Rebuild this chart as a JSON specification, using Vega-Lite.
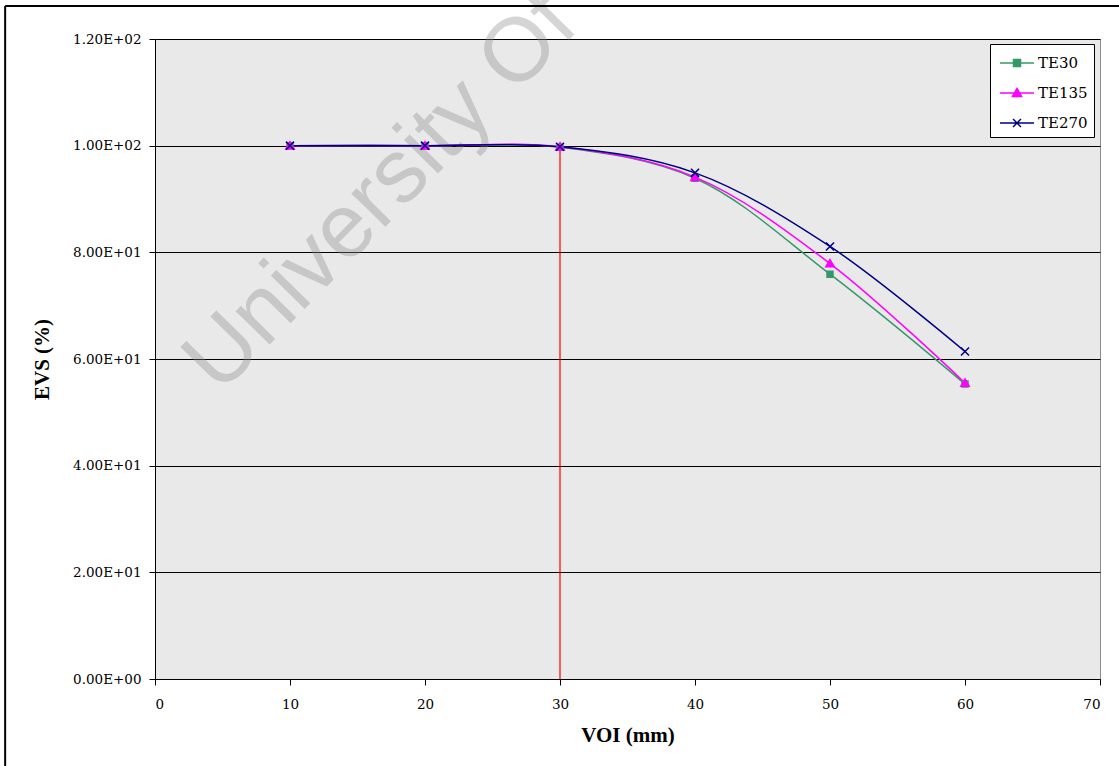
{
  "$schema": "https://vega.github.io/schema/vega-lite/v6.json",
  "width": 945,
  "height": 640,
  "autosize": {"type": "none"},
  "padding": {"left": 155, "top": 39, "right": 19, "bottom": 87},
  "background": "white",
  "config": {
    "view": {"fill": "#e9e9e9", "stroke": "#8c8c8c", "strokeWidth": 1},
    "font": "DejaVu Serif",
    "axis": {
      "labelFont": "DejaVu Serif",
      "labelFontSize": 13.5,
      "labelColor": "black",
      "domainColor": "black",
      "tickColor": "black",
      "titleFont": "Liberation Serif",
      "titleFontSize": 21,
      "titleFontWeight": "bold",
      "titleColor": "black"
    },
    "legend": {
      "labelFont": "DejaVu Serif",
      "labelFontSize": 15,
      "labelColor": "black",
      "padding": 6,
      "symbolOffset": 8,
      "rowPadding": 9,
      "labelOffset": 8,
      "fillColor": "white",
      "strokeColor": "black",
      "symbolSize": 576,
      "symbolStrokeWidth": 1.5
    }
  },
  "datasets": {
    "evs": [
      {"series": "TE30", "voi": 10, "evs": 100.0},
      {"series": "TE30", "voi": 20, "evs": 100.0},
      {"series": "TE30", "voi": 30, "evs": 99.7},
      {"series": "TE30", "voi": 40, "evs": 93.9},
      {"series": "TE30", "voi": 50, "evs": 75.9},
      {"series": "TE30", "voi": 60, "evs": 55.3},
      {"series": "TE135", "voi": 10, "evs": 100.0},
      {"series": "TE135", "voi": 20, "evs": 100.0},
      {"series": "TE135", "voi": 30, "evs": 99.8},
      {"series": "TE135", "voi": 40, "evs": 94.1},
      {"series": "TE135", "voi": 50, "evs": 77.9},
      {"series": "TE135", "voi": 60, "evs": 55.5},
      {"series": "TE270", "voi": 10, "evs": 100.0},
      {"series": "TE270", "voi": 20, "evs": 100.0},
      {"series": "TE270", "voi": 30, "evs": 99.8},
      {"series": "TE270", "voi": 40, "evs": 94.9},
      {"series": "TE270", "voi": 50, "evs": 81.1},
      {"series": "TE270", "voi": 60, "evs": 61.4}
    ],
    "cutoff": [{"voi": 30, "low": 0, "high": 100}]
  },
  "layer": [
    {
      "data": {"values": [{}]},
      "mark": {"type": "text", "text": "University Of", "font": "Liberation Sans", "fontSize": 90, "angle": -45.5, "align": "left", "baseline": "alphabetic", "color": "#8a8a8a", "opacity": 0.35},
      "encoding": {
        "x": {"datum": 4.8, "type": "quantitative", "scale": {"domain": [0, 70], "nice": false}},
        "y": {"datum": 53.2, "type": "quantitative", "scale": {"domain": [0, 120], "nice": false}}
      }
    },
    {
      "data": {"name": "cutoff"},
      "mark": {"type": "rule", "color": "#ff0000", "strokeWidth": 1.2},
      "encoding": {
        "x": {"field": "voi", "type": "quantitative"},
        "y": {"field": "low", "type": "quantitative"},
        "y2": {"field": "high"}
      }
    },
    {
      "data": {"name": "evs"},
      "mark": {"type": "line", "interpolate": "catmull-rom", "strokeWidth": 1.5},
      "encoding": {
        "x": {
          "field": "voi", "type": "quantitative",
          "scale": {"domain": [0, 70], "nice": false},
          "axis": {"title": "VOI (mm)", "values": [0, 10, 20, 30, 40, 50, 60, 70], "grid": false, "tickSize": 6, "labelPadding": 12, "titlePadding": 14}
        },
        "y": {
          "field": "evs", "type": "quantitative",
          "scale": {"domain": [0, 120], "nice": false},
          "axis": {
            "title": "EVS (%)",
            "values": [0, 20, 40, 60, 80, 100, 120],
            "grid": true, "gridColor": "black", "gridOpacity": 1, "gridWidth": 1,
            "tickSize": 6, "labelPadding": 8, "titlePadding": 20,
            "labelExpr": "datum.value == 0 ? '0.00E+00' : datum.value >= 100 ? format(datum.value / 100, '.2f') + 'E+02' : format(datum.value / 10, '.2f') + 'E+01'"
          }
        },
        "color": {
          "field": "series", "type": "nominal",
          "scale": {"domain": ["TE30", "TE135", "TE270"], "range": ["#339966", "#ff00ff", "#000080"]},
          "legend": {"title": null, "orient": "none", "legendX": 835, "legendY": 5, "encode": {"symbols": {"update": {"shape": {"signal": "datum.value === 'TE30' ? 'M-1.42,0H1.42M-0.29,-0.29H0.29V0.29H-0.29Z' : datum.value === 'TE135' ? 'M-1.42,0H1.42M0,-0.38L0.38,0.3H-0.38Z' : 'M-1.42,0H1.42M-0.33,-0.33L0.33,0.33M-0.33,0.33L0.33,-0.33'"}}}}}
        },
        "order": {"field": "voi"}
      }
    },
    {
      "data": {"name": "evs"},
      "transform": [{"filter": "datum.series === 'TE30'"}],
      "mark": {"type": "point", "shape": "M-0.85,-0.85H0.85V0.85H-0.85Z", "filled": true, "opacity": 1, "size": 49, "strokeWidth": 1.5},
      "encoding": {
        "x": {"field": "voi", "type": "quantitative"},
        "y": {"field": "evs", "type": "quantitative"},
        "color": {
          "field": "series", "type": "nominal",
          "scale": {"domain": ["TE30", "TE135", "TE270"], "range": ["#339966", "#ff00ff", "#000080"]},
          "legend": {"title": null, "orient": "none", "legendX": 835, "legendY": 5, "encode": {"symbols": {"update": {"shape": {"signal": "datum.value === 'TE30' ? 'M-1.42,0H1.42M-0.29,-0.29H0.29V0.29H-0.29Z' : datum.value === 'TE135' ? 'M-1.42,0H1.42M0,-0.38L0.38,0.3H-0.38Z' : 'M-1.42,0H1.42M-0.33,-0.33L0.33,0.33M-0.33,0.33L0.33,-0.33'"}}}}}
        },
        "stroke": {
          "field": "series", "type": "nominal",
          "scale": {"domain": ["TE30", "TE135", "TE270"], "range": ["#339966", "#ff00ff", "#000080"]},
          "legend": {"title": null, "orient": "none", "legendX": 835, "legendY": 5, "encode": {"symbols": {"update": {"shape": {"signal": "datum.value === 'TE30' ? 'M-1.42,0H1.42M-0.29,-0.29H0.29V0.29H-0.29Z' : datum.value === 'TE135' ? 'M-1.42,0H1.42M0,-0.38L0.38,0.3H-0.38Z' : 'M-1.42,0H1.42M-0.33,-0.33L0.33,0.33M-0.33,0.33L0.33,-0.33'"}}}}}
        }
      }
    },
    {
      "data": {"name": "evs"},
      "transform": [{"filter": "datum.series === 'TE135'"}],
      "mark": {"type": "point", "shape": "M0,-1.15L1.2,0.95H-1.2Z", "filled": true, "opacity": 1, "size": 49, "strokeWidth": 1.5},
      "encoding": {
        "x": {"field": "voi", "type": "quantitative"},
        "y": {"field": "evs", "type": "quantitative"},
        "color": {
          "field": "series", "type": "nominal",
          "scale": {"domain": ["TE30", "TE135", "TE270"], "range": ["#339966", "#ff00ff", "#000080"]},
          "legend": {"title": null, "orient": "none", "legendX": 835, "legendY": 5, "encode": {"symbols": {"update": {"shape": {"signal": "datum.value === 'TE30' ? 'M-1.42,0H1.42M-0.29,-0.29H0.29V0.29H-0.29Z' : datum.value === 'TE135' ? 'M-1.42,0H1.42M0,-0.38L0.38,0.3H-0.38Z' : 'M-1.42,0H1.42M-0.33,-0.33L0.33,0.33M-0.33,0.33L0.33,-0.33'"}}}}}
        },
        "stroke": {
          "field": "series", "type": "nominal",
          "scale": {"domain": ["TE30", "TE135", "TE270"], "range": ["#339966", "#ff00ff", "#000080"]},
          "legend": {"title": null, "orient": "none", "legendX": 835, "legendY": 5, "encode": {"symbols": {"update": {"shape": {"signal": "datum.value === 'TE30' ? 'M-1.42,0H1.42M-0.29,-0.29H0.29V0.29H-0.29Z' : datum.value === 'TE135' ? 'M-1.42,0H1.42M0,-0.38L0.38,0.3H-0.38Z' : 'M-1.42,0H1.42M-0.33,-0.33L0.33,0.33M-0.33,0.33L0.33,-0.33'"}}}}}
        }
      }
    },
    {
      "data": {"name": "evs"},
      "transform": [{"filter": "datum.series === 'TE270'"}],
      "mark": {"type": "point", "shape": "M-1.15,-1.15L1.15,1.15M-1.15,1.15L1.15,-1.15", "filled": true, "opacity": 1, "size": 49, "strokeWidth": 1.5},
      "encoding": {
        "x": {"field": "voi", "type": "quantitative"},
        "y": {"field": "evs", "type": "quantitative"},
        "color": {
          "field": "series", "type": "nominal",
          "scale": {"domain": ["TE30", "TE135", "TE270"], "range": ["#339966", "#ff00ff", "#000080"]},
          "legend": {"title": null, "orient": "none", "legendX": 835, "legendY": 5, "encode": {"symbols": {"update": {"shape": {"signal": "datum.value === 'TE30' ? 'M-1.42,0H1.42M-0.29,-0.29H0.29V0.29H-0.29Z' : datum.value === 'TE135' ? 'M-1.42,0H1.42M0,-0.38L0.38,0.3H-0.38Z' : 'M-1.42,0H1.42M-0.33,-0.33L0.33,0.33M-0.33,0.33L0.33,-0.33'"}}}}}
        },
        "stroke": {
          "field": "series", "type": "nominal",
          "scale": {"domain": ["TE30", "TE135", "TE270"], "range": ["#339966", "#ff00ff", "#000080"]},
          "legend": {"title": null, "orient": "none", "legendX": 835, "legendY": 5, "encode": {"symbols": {"update": {"shape": {"signal": "datum.value === 'TE30' ? 'M-1.42,0H1.42M-0.29,-0.29H0.29V0.29H-0.29Z' : datum.value === 'TE135' ? 'M-1.42,0H1.42M0,-0.38L0.38,0.3H-0.38Z' : 'M-1.42,0H1.42M-0.33,-0.33L0.33,0.33M-0.33,0.33L0.33,-0.33'"}}}}}
        }
      }
    },
    {
      "data": {"values": [{}]},
      "mark": {"type": "rule", "color": "black", "strokeWidth": 2},
      "encoding": {
        "x": {"datum": -11.1, "type": "quantitative"},
        "x2": {"datum": 73},
        "y": {"datum": 126.2, "type": "quantitative"}
      }
    },
    {
      "data": {"values": [{}]},
      "mark": {"type": "rule", "color": "black", "strokeWidth": 2},
      "encoding": {
        "x": {"datum": -11.1, "type": "quantitative"},
        "y": {"datum": -20, "type": "quantitative"},
        "y2": {"datum": 126.2}
      }
    }
  ]
}
